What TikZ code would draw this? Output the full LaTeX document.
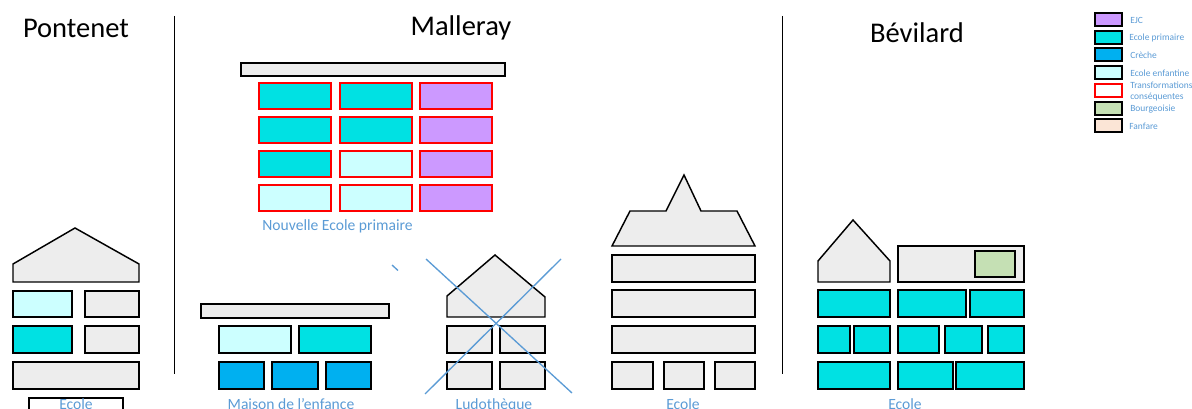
\documentclass[tikz,border=0pt]{standalone}
\usepackage{fontspec}
\setmainfont{Carlito}
\usepackage{tikz}
\definecolor{mgrey}{HTML}{EDEDED}
\definecolor{mteal}{HTML}{00E1E3}
\definecolor{mpale}{HTML}{CCFFFF}
\definecolor{mlilac}{HTML}{CC99FF}
\definecolor{mblue}{HTML}{00B0F0}
\definecolor{mgreen}{HTML}{C5E0B4}
\definecolor{mpeach}{HTML}{FBE5D6}
\definecolor{mlabel}{HTML}{5B9BD5}
\definecolor{mred}{HTML}{FF0000}
\tikzset{
  wall/.style={draw=black, line width=1.1pt, fill=mgrey},
  teal/.style={wall, fill=mteal},
  pale/.style={wall, fill=mpale},
  creche/.style={wall, fill=mblue},
  newwall/.style={draw=mred, line width=1.1pt},
  title/.style={font=\fontsize{21.4}{25}\selectfont, inner sep=0pt},
  caption/.style={font=\fontsize{11.7}{14}\selectfont, text=mlabel, inner sep=0pt, anchor=base},
  legendtext/.style={font=\fontsize{7.1}{8.5}\selectfont, text=mlabel, inner sep=0pt, anchor=west},
  crossline/.style={draw=mlabel, line width=1pt}
}
\begin{document}
\begin{tikzpicture}[x=0.75pt, y=-0.75pt]
    \useasboundingbox (0, 0) rectangle (1192, 409);
    \clip (0, 0) rectangle (1192, 409);

    \draw [line width=1pt] (174.5, 16) -- (174.5, 374);
    \draw [line width=1pt] (782.5, 16) -- (782.5, 374);

    \node [title] (pontenet) at (76, 28) {Pontenet};
    \node [title] (malleray) at (461, 28) {Malleray};
    \node [title] (bevilard) at (917, 33) {Bévilard};

    \draw [wall] (13, 282) -- (13, 264) -- (75, 228) -- (139, 264) -- (139, 282) -- cycle;
    \draw [pale] (13, 291) rectangle (72, 317);
    \draw [wall] (85, 291) rectangle (139, 317);
    \draw [teal] (13, 326) rectangle (72, 353);
    \draw [wall] (85, 326) rectangle (139, 353);
    \draw [wall] (13, 362) rectangle (139, 389);
    \draw [line width=1pt] (29, 420) rectangle (123, 398);
    \node [caption] (ecolea) at (76, 410) {Ecole};

    \draw [wall] (241, 63) rectangle (505, 76);
    \foreach \y/\a/\b in {83/mteal/mteal, 117/mteal/mteal, 151/mteal/mpale, 185/mpale/mpale} {
      \draw [newwall, fill=\a] (259, \y) rectangle (331, \y+26);
      \draw [newwall, fill=\b] (340, \y) rectangle (412, \y+26);
      \draw [newwall, fill=mlilac] (420, \y) rectangle (492, \y+26);
    }
    \node [caption] (nouvelle) at (337.5, 230.5) {Nouvelle Ecole primaire};
    \draw [crossline] (392, 265) -- (398, 270.5);

    \draw [wall] (201, 304) rectangle (389, 318);
    \draw [pale] (219, 326) rectangle (291, 353);
    \draw [teal] (299, 326) rectangle (371, 353);
    \foreach \x/\X in {219/264, 272/318, 326/371} {
      \draw [creche] (\x, 362) rectangle (\X, 389);
    }
    \node [caption] (maison) at (291, 410) {Maison de l’enfance};

    \draw [wall] (447, 317) -- (447, 296) -- (495, 255) -- (545, 297) -- (545, 317) -- cycle;
    \foreach \y in {326, 362} {
      \draw [wall] (447, \y) rectangle (492, \y+27);
      \draw [wall] (500, \y) rectangle (545, \y+27);
    }
    \draw [crossline] (426, 259) -- (572, 393);
    \draw [crossline] (561, 259) -- (425, 394);
    \node [caption] (ludo) at (494, 410) {Ludothèque};

    \draw [wall] (612, 246) -- (630, 211) -- (666, 211) -- (684, 175) -- (701, 211) -- (737, 211) -- (755, 246) -- cycle;
    \foreach \y in {255, 290, 326} {
      \draw [wall] (612, \y) rectangle (755, \y+27);
    }
    \foreach \x/\X in {612/653, 664/704, 715/755} {
      \draw [wall] (\x, 362) rectangle (\X, 389);
    }
    \node [caption] (ecoleb) at (683, 410) {Ecole};

    \draw [wall] (818, 282) -- (818, 261) -- (853, 220) -- (890, 261) -- (890, 282) -- cycle;
    \draw [wall] (898, 246) rectangle (1024, 282);
    \draw [wall, fill=mgreen] (975, 251) rectangle (1015, 277);
    \foreach \y/\x/\X in {290/818/890, 290/898/966, 290/970/1024,
                          326/818/850, 326/854/890, 326/898/939, 326/945/982, 326/988/1024,
                          362/818/890, 362/898/953, 362/956/1024} {
      \draw [teal] (\x, \y) rectangle (\X, \y+27);
    }
    \node [caption] (ecolec) at (905, 410) {Ecole};

    \foreach \y/\c in {13/mlilac, 31/mteal, 48/mblue, 66/mpale, 102/mgreen, 119/mpeach} {
      \draw [wall, fill=\c] (1095, \y) rectangle (1122, \y+13);
    }
    \draw [newwall, fill=white] (1095, 84) rectangle (1122, 97);
    \node [legendtext] (ejc) at (1130, 20) {EJC};
    \node [legendtext] (primaire) at (1129, 38) {Ecole primaire};
    \node [legendtext] (creche) at (1130, 55) {Crèche};
    \node [legendtext] (enfantine) at (1130, 73) {Ecole enfantine};
    \node [legendtext] (transfoa) at (1130, 85) {Transformations};
    \node [legendtext] (transfob) at (1130, 97) {conséquentes};
    \node [legendtext] (bourgeoisie) at (1130, 109) {Bourgeoisie};
    \node [legendtext] (fanfare) at (1129, 126) {Fanfare};
\end{tikzpicture}
\end{document}
